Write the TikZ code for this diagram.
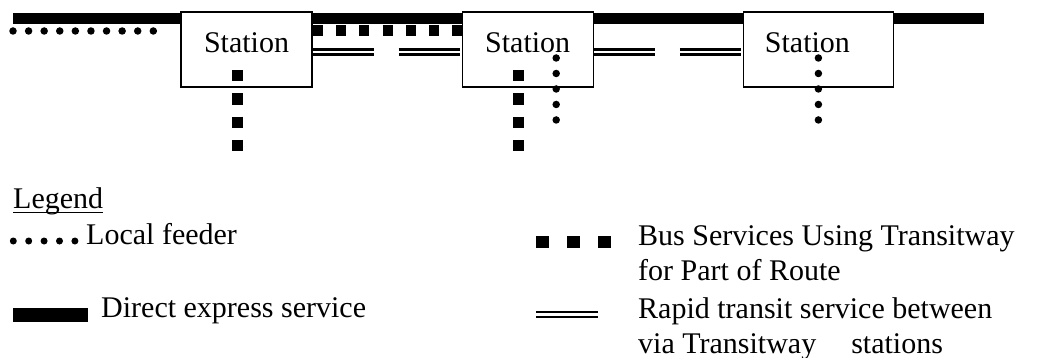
\documentclass[tikz,border=0pt]{standalone}
\usepackage{fontspec}
\setmainfont{Liberation Serif}
\usepackage{tikz}
\usetikzlibrary{positioning,calc}

\tikzset{
  station/.style={draw, line width=1.2pt, fill=white, minimum width=131pt, minimum height=75pt,
    inner sep=0pt, text height=21pt, text depth=14pt},
  express/.style={line width=11.5pt},
  feeder/.style={line width=7.5pt, line cap=round, dash pattern=on 0pt off 15.59pt},
  busway/.style={line width=11pt, dash pattern=on 10pt off 13.3pt},
  rapid/.style={line width=2.3pt, double distance=2.6pt},
  legtext/.style={anchor=base west, inner sep=0pt, align=left},
}

\begin{document}
\begin{tikzpicture}[x=1pt, y=-1pt, font=\fontsize{30}{35}\selectfont]
  \useasboundingbox (0,0) rectangle (1040,358);

  % express line runs behind the stations
  \coordinate (e0) at (13,18.5);
  \coordinate (e1) at (984,18.5);
  \draw[express] (e0) -- (e1);

  \node[station] (s1) at (246.5,49.5) {Station};
  \node[station, right=149pt of s1] (s2) {Station};
  \node[station, minimum width=150pt, right=149pt of s2] (s3) {Station\hspace*{22pt}};

  % feeder from the left
  \coordinate (f0) at (13,31);
  \draw[feeder] (f0) -- ($(s1.west)+(-12,-18.5)$);

  % transitway buses
  \draw[busway] ($(s1.east)+(0,-18.5)$) -- ($(s2.west)+(0,-18.5)$);
  \draw[busway, dash pattern=on 11.5pt off 11.8pt] ($(s1.center)+(-9,20.5)$) -- ++(0,82);
  \draw[busway, dash pattern=on 11.5pt off 11.8pt] ($(s2.center)+(-9,20.5)$) -- ++(0,82);

  % rapid transit between stations
  \draw[rapid, dash pattern=on 61pt off 25pt] ($(s1.east)+(0,2.5)$) -- ($(s2.west)+(0,2.5)$);
  \draw[rapid, dash pattern=on 61pt off 25pt] ($(s2.east)+(0,2.5)$) -- ($(s3.west)+(0,2.5)$);

  % local feeders below
  \draw[feeder, dash pattern=on 0pt off 15.49pt] ($(s2.center)+(28.5,8.5)$) -- ++(0,62);
  \draw[feeder, dash pattern=on 0pt off 15.49pt] ($(s3.center)+(0,8.5)$) -- ++(0,62);

  % legend
  \node[legtext] (leg) at (13,208) {Legend};
  \draw[line width=1.5pt] ($(leg.base west)+(0,4.5)$) -- ($(leg.base east)+(0,4.5)$);

  \node[legtext] (lf) at (86,244) {Local feeder};
  \draw[feeder, line width=7pt, dash pattern=on 0pt off 15.4pt] ($(lf.base west)+(-72.7,-3)$) -- ++(61.7,0);

  \node[legtext] (de) at (101,317) {Direct express service};
  \draw[express, line width=14pt] ($(de.base west)+(-88,-2)$) -- ++(75,0);

  % base of a two-line node is its last line
  \node[legtext] (bs) at (638,280) {Bus Services Using Transitway\\for Part of Route};
  \draw[busway, line width=12pt, dash pattern=on 13pt off 18pt] (536,242) -- (612,242);

  \node[legtext] (rt) at (638,353) {Rapid transit service between\\via Transitway\hspace{35pt}stations};
  \draw[rapid, double distance=2.7pt] (536,314.7) -- (598,314.7);
\end{tikzpicture}
\end{document}
